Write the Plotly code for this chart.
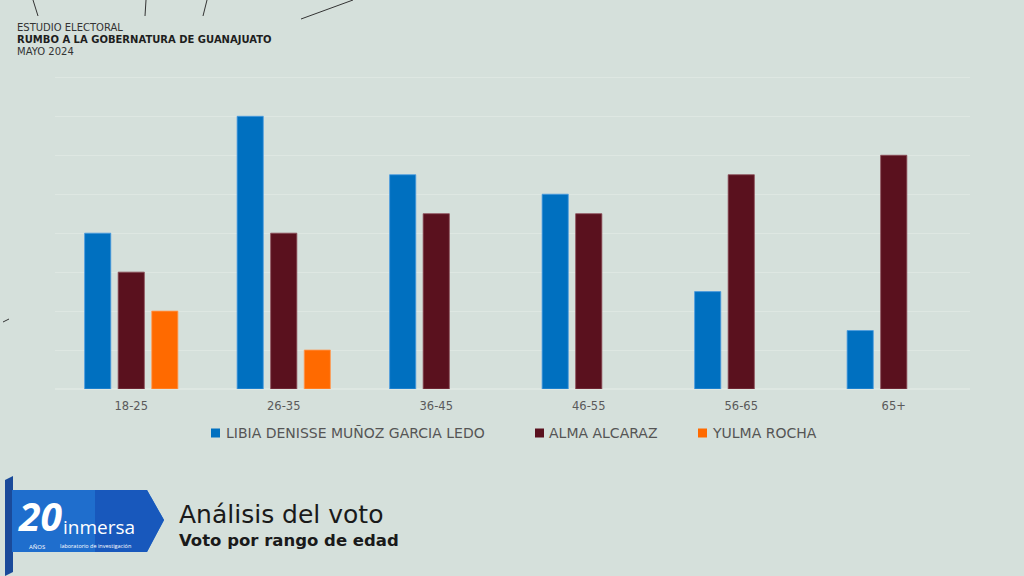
import plotly.graph_objects as go

categories = ["18-25", "26-35", "36-45", "46-55", "56-65", "65+"]
libia = [20, 35, 27.5, 25, 12.5, 7.5]
alma = [15, 20, 22.5, 22.5, 27.5, 30]
yulma = [10, 5, None, None, None, None]
series_names = ["LIBIA DENISSE MUÑOZ GARCIA LEDO", "ALMA ALCARAZ", "YULMA ROCHA"]
colors = ["#0070C0", "#5A111E", "#FF6A00"]
edge_colors = ["#4A9BE0", "#8A4A55", "#FF9A55"]

W, H = 1024, 576
L, R, T, B = 55, 54, 75, 187
PW, PH = W - L - R, H - T - B


def px(x):
    return (x - L) / PW


def py(y):
    return (H - B - y) / PH


BG = "#D5E0DB"

fig = go.Figure()
for name, vals, c, ec in zip(series_names, [libia, alma, yulma], colors, edge_colors):
    fig.add_trace(go.Bar(
        x=categories, y=vals, name=name,
        marker=dict(color=c, line=dict(color=ec, width=0.8)),
        showlegend=False,
    ))

shapes = []
# decorative lines at top
for (x0, y0, x1, y1) in [(33, 0, 38, 16), (146, 0, 145, 16), (207, 0, 203, 16), (353, 0, 301, 19), (3, 322, 9, 319)]:
    shapes.append(dict(type="line", xref="paper", yref="paper",
                       x0=px(x0), y0=py(y0), x1=px(x1), y1=py(y1),
                       line=dict(color="#333333", width=1)))


def path(points):
    return "M " + " L ".join(f"{px(a):.5f},{py(b):.5f}" for a, b in points) + " Z"


# ribbon logo
shapes.append(dict(type="path", xref="paper", yref="paper",
                   path=path([(5, 480), (13, 476), (13, 572), (5, 576)]),
                   fillcolor="#1A4A9A", line=dict(width=0)))
shapes.append(dict(type="path", xref="paper", yref="paper",
                   path=path([(12, 490), (147, 490), (164, 520), (147, 552), (12, 552)]),
                   fillcolor="#1F6ECD", line=dict(width=0)))
shapes.append(dict(type="path", xref="paper", yref="paper",
                   path=path([(95, 490), (147, 490), (164, 520), (147, 552), (95, 552)]),
                   fillcolor="#1858BC", line=dict(width=0)))

# custom legend
leg_marker_x = [211, 535, 698]
leg_text_x = [225, 548, 711]
leg_y = 433
for name, c, mx, tx in zip(series_names, colors, leg_marker_x, leg_text_x):
    shapes.append(dict(type="rect", xref="paper", yref="paper",
                       x0=px(mx), x1=px(mx + 9), y0=py(leg_y - 4.5), y1=py(leg_y + 4.5),
                       fillcolor=c, line=dict(width=0)))

annotations = []
for name, tx in zip(series_names, leg_text_x):
    annotations.append(dict(text=name, x=px(tx - 1), y=py(leg_y), xref="paper", yref="paper",
                            xanchor="left", yanchor="middle", showarrow=False,
                            font=dict(family="DejaVu Sans", size=14, color="#555555")))

annotations += [
    dict(text="ESTUDIO ELECTORAL", x=px(15), y=py(28), xref="paper", yref="paper",
         xanchor="left", yanchor="middle", showarrow=False,
         font=dict(family="DejaVu Sans", size=10, color="#333333")),
    dict(text="<b>RUMBO A LA GOBERNATURA DE GUANAJUATO</b>", x=px(15), y=py(40), xref="paper", yref="paper",
         xanchor="left", yanchor="middle", showarrow=False,
         font=dict(family="DejaVu Sans", size=10, color="#1E1E1E")),
    dict(text="MAYO 2024", x=px(15), y=py(51), xref="paper", yref="paper",
         xanchor="left", yanchor="middle", showarrow=False,
         font=dict(family="DejaVu Sans", size=10, color="#333333")),
    dict(text="Análisis del voto", x=px(177), y=py(514), xref="paper", yref="paper",
         xanchor="left", yanchor="middle", showarrow=False,
         font=dict(family="DejaVu Sans", size=25, color="#1A1A1A")),
    dict(text="<b>Voto por rango de edad</b>", x=px(177), y=py(540), xref="paper", yref="paper",
         xanchor="left", yanchor="middle", showarrow=False,
         font=dict(family="DejaVu Sans", size=16.5, color="#1A1A1A")),
    dict(text="<b><i>20</i></b>", x=px(40), y=py(515), xref="paper", yref="paper",
         xanchor="center", yanchor="middle", showarrow=False,
         font=dict(family="Open Sans", size=39, color="#FFFFFF")),
    dict(text="inmersa", x=px(61), y=py(527), xref="paper", yref="paper",
         xanchor="left", yanchor="middle", showarrow=False,
         font=dict(family="Open Sans", size=19, color="#FFFFFF")),
    dict(text="AÑOS", x=px(37), y=py(547), xref="paper", yref="paper",
         xanchor="center", yanchor="middle", showarrow=False,
         font=dict(family="Open Sans", size=6, color="#FFFFFF")),
    dict(text="laboratorio de investigación", x=px(95), y=py(546), xref="paper", yref="paper",
         xanchor="center", yanchor="middle", showarrow=False,
         font=dict(family="Open Sans", size=5.5, color="#FFFFFF")),
]

fig.update_layout(
    width=W, height=H,
    margin=dict(l=L, r=R, t=T, b=B),
    paper_bgcolor=BG, plot_bgcolor=BG,
    barmode="group", bargap=0.34, bargroupgap=0.22,
    showlegend=False,
    xaxis=dict(showgrid=False, showline=False, zeroline=False, ticklabelstandoff=8,
               tickfont=dict(family="DejaVu Sans", size=11.5, color="#5A5A5A"), ticks=""),
    yaxis=dict(range=[0, 40.3], tickvals=[5, 10, 15, 20, 25, 30, 35, 40], showgrid=True,
               gridcolor="#DEE7E2", gridwidth=1,
               zeroline=True, zerolinecolor="#DEE7E2", showticklabels=False, ticks=""),
    shapes=shapes, annotations=annotations,
)

fig.write_html("out.html", config={"displayModeBar": False},
               post_script="document.body.style.margin='0';document.body.style.overflow='hidden';")
